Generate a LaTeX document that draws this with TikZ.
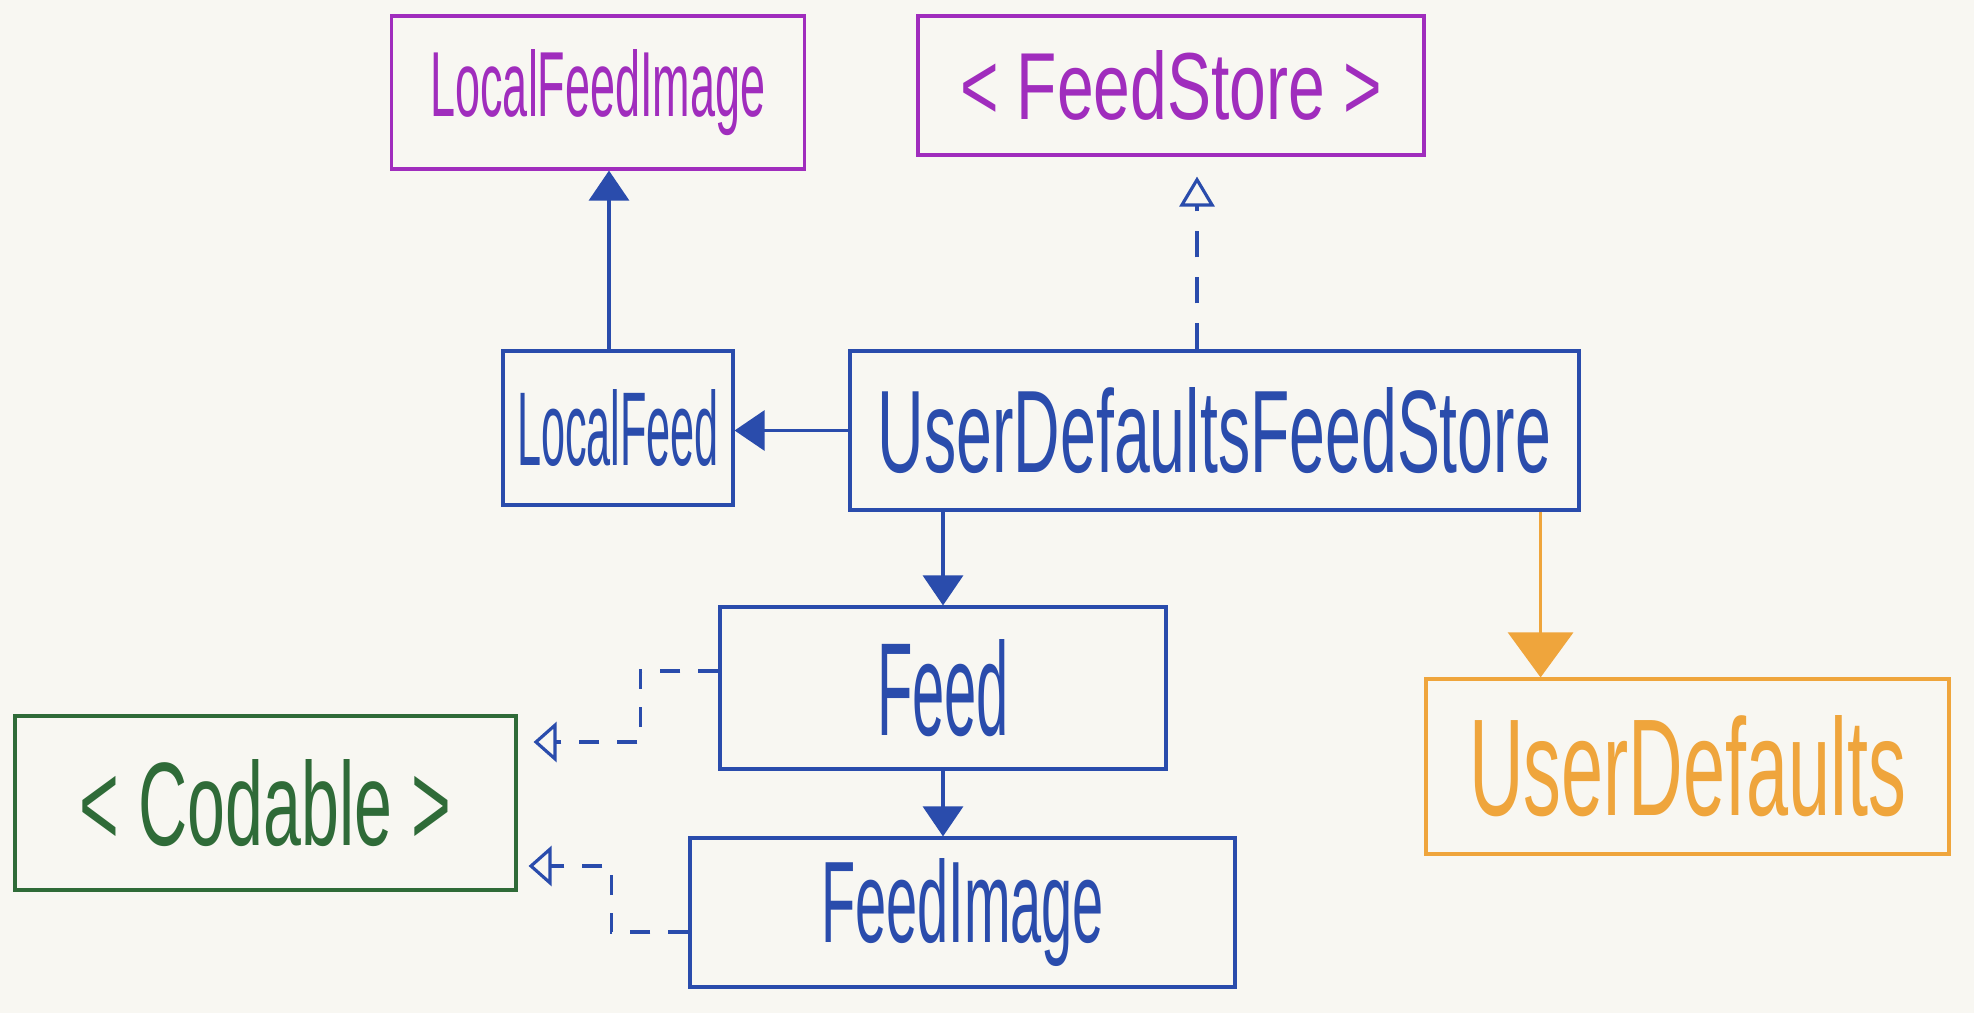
\documentclass[tikz,border=0pt]{standalone}
\usepackage{fontspec}
\setmainfont{Liberation Sans}
\usetikzlibrary{arrows.meta,positioning,calc}
\definecolor{paper}{HTML}{F8F7F2}
\definecolor{umlpurple}{HTML}{A02DBD}
\definecolor{umlblue}{HTML}{2A4CAC}
\definecolor{umlgreen}{HTML}{2F6B38}
\definecolor{umlorange}{HTML}{EFA53C}
\newcommand{\hand}[3]{\resizebox{#1}{#2}{#3}}

\begin{document}
\begin{tikzpicture}[line width=0.9pt,
  umlbox/.style={draw, rectangle, inner sep=0pt},
  assoc/.style={umlblue, -{Triangle[length=3mm,width=4mm]}},
  realize/.style={umlblue, dash pattern=on 2mm off 1.8mm, -{Triangle[open,length=2.3mm,width=4mm]}}]
  \fill[paper] (0,0) rectangle (19.74,-10.13);

  % classes and protocols
  \node[umlbox, umlpurple, minimum width=4.13cm, minimum height=1.53cm] (lfimage) at (5.98,-0.925) {\hand{3.35cm}{0.67cm}{LocalFeedImage}};
  \node[umlbox, umlpurple, minimum width=5.06cm, minimum height=1.39cm] (feedstore) at (11.71,-0.855) {\hand{4.22cm}{0.69cm}{\textless\ FeedStore \textgreater}};
  \node[umlbox, umlblue, minimum width=2.30cm, minimum height=1.54cm] (localfeed) at (6.18,-4.28) {\hand{2.02cm}{0.76cm}{LocalFeed}};
  \node[umlbox, umlblue, minimum width=7.29cm, minimum height=1.59cm] (udstore) at (12.145,-4.305) {\hand{6.73cm}{0.85cm}{UserDefaultsFeedStore}};
  \node[umlbox, umlblue, minimum width=4.46cm, minimum height=1.62cm] (feed) at (9.43,-6.88) {\hand{1.32cm}{0.96cm}{Feed}};
  \node[umlbox, umlblue, minimum width=5.45cm, minimum height=1.49cm] (feedimage) at (9.625,-9.125) {\hand{2.83cm}{0.84cm}{FeedImage}};
  \node[umlbox, umlgreen, minimum width=5.01cm, minimum height=1.74cm] (codable) at (2.655,-8.03) {\hand{3.71cm}{0.86cm}{\textless\ Codable \textgreater}};
  \node[umlbox, umlorange, minimum width=5.23cm, minimum height=1.75cm] (userdefaults) at (16.875,-7.665) {\hand{4.37cm}{1.0cm}{UserDefaults}};

  % relations
  \draw[assoc] ([xshift=-0.9mm]localfeed.north) -- ([xshift=-0.9mm]localfeed.north |- lfimage.south);
  \draw[realize, dash pattern=on 2.6mm off 2mm, -{Triangle[open,length=3mm,width=3.5mm]}, shorten >=2mm] ([xshift=-1.75mm]udstore.north) -- ([xshift=-1.75mm]udstore.north |- feedstore.south);
  \draw[assoc] (udstore.west) -- (udstore.west -| localfeed.east);
  \draw[assoc] (udstore.south -| feed.north) -- (feed.north);
  \draw[assoc] (feed.south) -- (feed.south |- feedimage.north);
  \draw[umlorange, -{Triangle[length=4.5mm,width=6.5mm]}] ([xshift=-4mm]udstore.south east) -- ([xshift=-4mm]udstore.south east |- userdefaults.north);
  \draw[realize, shorten >=1.6mm] ([yshift=1.7mm]feed.west) -- ++(-0.78,0) |- ([yshift=6.1mm]codable.east);
  \draw[realize, shorten >=1.1mm] ([yshift=-1.95mm]feedimage.west) -- ++(-0.77,0) |- ([yshift=-6.3mm]codable.east);
\end{tikzpicture}
\end{document}
